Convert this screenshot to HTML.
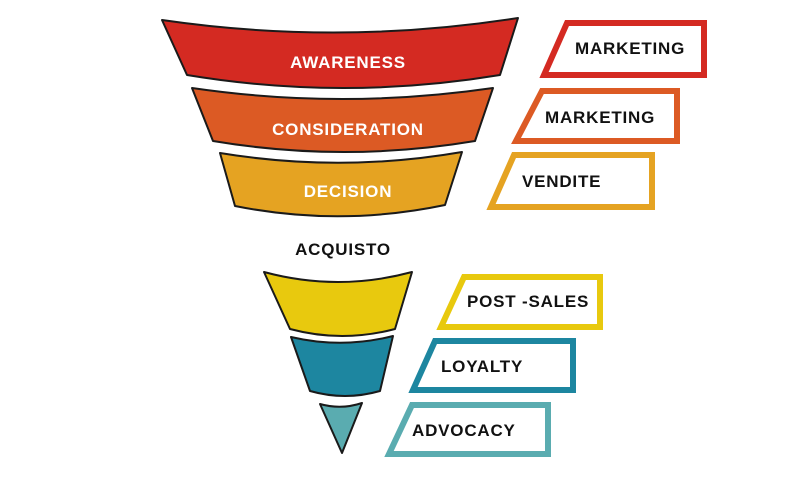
<!DOCTYPE html>
<html><head><meta charset="utf-8"><style>
html,body{margin:0;padding:0;background:#fff;}
svg{display:block}
text{font-family:"Liberation Sans",sans-serif;font-weight:bold;letter-spacing:0.8px;}
</style></head><body>
<svg width="800" height="480" viewBox="0 0 800 480" xmlns="http://www.w3.org/2000/svg">
<g stroke="#1a1a1a" stroke-width="2" stroke-linejoin="round">
<path d="M162 20 Q340 46 518 18 L500 75 Q343 101 187 75 Z" fill="#d42a22"/>
<path d="M192 88 Q342 110 493 88 L475 141 Q344 163 213 141 Z" fill="#dc5a24"/>
<path d="M220 153 Q341 173 462 152 L445 205 Q340 227 235 206 Z" fill="#e5a322"/>
<path d="M264 272 Q338 292 412 272 L395 329 Q342 343 290 329 Z" fill="#e8c90e"/>
<path d="M291 337 Q342 349 393 336 L380 391 Q345 401 310 391 Z" fill="#1d86a0"/>
<path d="M320 404 Q341 410 362 403 L342 453 Z" fill="#5aacb0"/>
</g>
<g font-size="17" fill="#fff" text-anchor="middle">
<text x="348" y="68">AWARENESS</text>
<text x="348" y="135">CONSIDERATION</text>
<text x="348" y="197">DECISION</text>
</g>
<text x="343" y="255" font-size="17" fill="#111" text-anchor="middle">ACQUISTO</text>
<g fill="#fff" stroke-width="6" stroke-linejoin="miter">
<path d="M544 75 L567 23 L704 23 L704 75 Z" stroke="#d42a22"/>
<path d="M516 141 L542 91 L677 91 L677 141 Z" stroke="#dc5a24"/>
<path d="M491 207 L514 155 L652 155 L652 207 Z" stroke="#e5a322"/>
<path d="M441 327 L464 277 L600 277 L600 327 Z" stroke="#e8c90e"/>
<path d="M413 390 L435 341 L573 341 L573 390 Z" stroke="#1d86a0"/>
<path d="M389 454 L412 405 L548 405 L548 454 Z" stroke="#5aacb0"/>
</g>
<g font-size="17" fill="#111">
<text x="575" y="54">MARKETING</text>
<text x="545" y="123">MARKETING</text>
<text x="522" y="187">VENDITE</text>
<text x="467" y="307">POST -SALES</text>
<text x="441" y="372">LOYALTY</text>
<text x="412" y="436">ADVOCACY</text>
</g>
</svg>
</body></html>
